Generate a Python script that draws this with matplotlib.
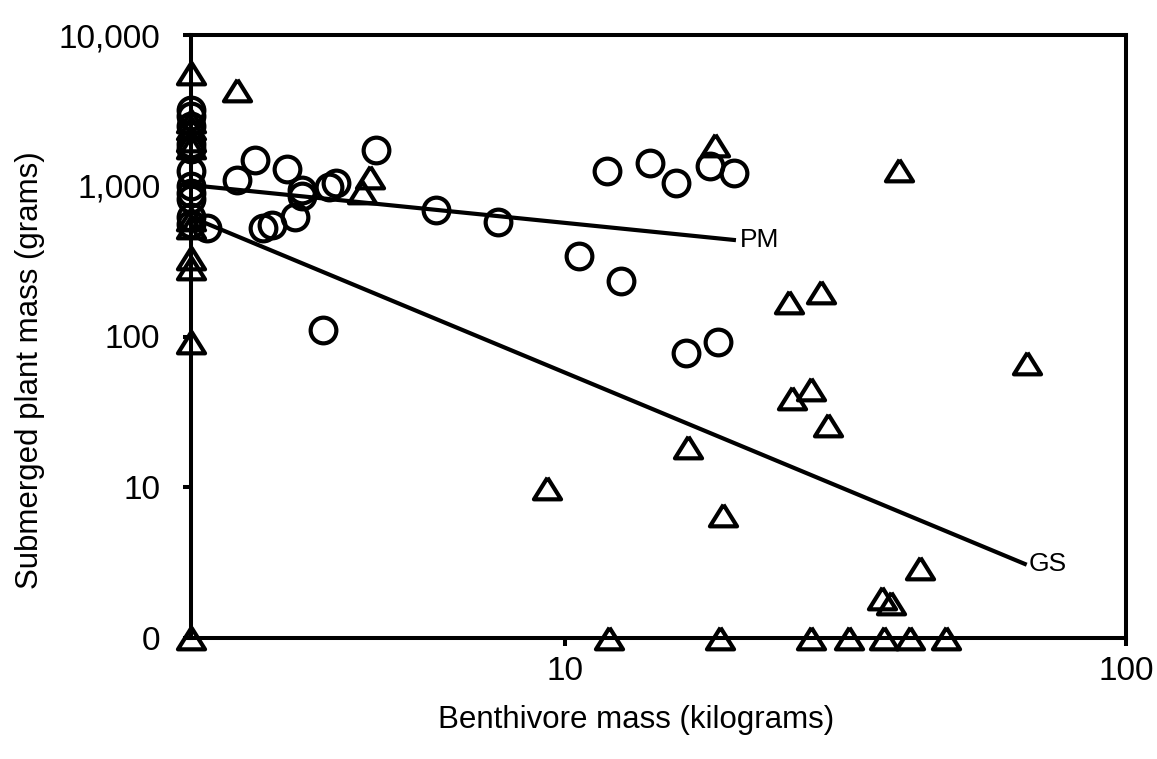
# -*- coding: utf-8 -*-
import numpy as np
import matplotlib
matplotlib.use('Agg')
import matplotlib.pyplot as plt
from matplotlib.markers import MarkerStyle
from matplotlib.ticker import FixedLocator, NullLocator

plt.rcParams['font.family'] = ['Liberation Sans', 'DejaVu Sans']

# PM sites (circles): benthivore mass (kg), submerged plant mass (g); 0 kg sits on the left axis
pm_kg = [0, 0, 0, 0, 0, 0, 0, 0, 0, 0, 0,
         2.3, 2.6, 2.8, 2.9, 3.0, 3.2, 3.3, 3.4, 3.4, 3.7, 3.8, 3.9, 4.6,
         5.9, 7.6, 10.6, 11.9, 12.6, 14.2, 15.8, 16.4, 18.1, 18.7, 20.0]
pm_g = [3200, 2900, 2500, 1900, 1750, 1250, 1000, 900, 820, 620, 560,
        525, 1090, 1480, 525, 550, 1290, 620, 940, 855, 110, 980, 1040, 1730,
        690, 575, 340, 1250, 235, 1420, 1050, 78, 1350, 92, 1220]

# GS sites (triangles); 0 g sits on the bottom axis
gs_kg = [0, 0, 0, 0, 0, 0, 0, 0, 0, 0, 0,
         2.6, 4.35, 4.5, 9.3, 16.6, 18.5, 19.1, 25.1, 25.4, 27.4, 28.6, 29.4,
         36.7, 38.1, 39.4, 43.0, 66.7,
         12.0, 18.9, 27.4, 32.1, 37.0, 41.2, 47.7]
gs_g = [5600, 2700, 2400, 2000, 1800, 600, 530, 330, 285, 92, 0,
        4300, 910, 1140, 9.9, 18.5, 1860, 6.5, 170, 39, 45, 197, 26,
        1.84, 1.7, 1270, 2.9, 67,
        0, 0, 0, 0, 0, 0, 0]

# fitted lines (end points)
pm_fit_kg = [0, 20.0]
pm_fit_g = [1010, 437]
gs_fit_kg = [0, 66.0]
gs_fit_g = [620, 3.1]

y_ticks = [1, 10, 100, 1000, 10000]
y_labels = ['0', '10', '100', '1,000', '10,000']
x_ticks = [10, 100]
x_labels = ['10', '100']

X_MIN = 10 ** (1 / 3.)
X_MAX = 100
Y_MIN = 1
Y_MAX = 10000


def floorX(v):
  v = np.asarray(v, dtype=float)
  return np.where(v <= 0, X_MIN, v)


def floorY(v):
  v = np.asarray(v, dtype=float)
  return np.where(v <= 0, Y_MIN, v)


fig = plt.figure(figsize=(11.57, 7.59), dpi=100)
ax = fig.add_axes([191 / 1157., 1 - 638 / 759., (1126 - 191) / 1157., (638 - 35) / 759.])
ax.set_xscale('log')
ax.set_yscale('log')
ax.set_xlim(X_MIN, X_MAX)
ax.set_ylim(Y_MIN, Y_MAX)

tri = MarkerStyle([(0, 0.8), (-1, -0.8), (1, -0.8), (0, 0.8)], joinstyle='miter')
ax.plot(floorX(pm_kg), floorY(pm_g), linestyle='none', marker='o', markersize=18.5,
        markerfacecolor='none', markeredgecolor='black', markeredgewidth=3,
        clip_on=False, zorder=3)
ax.plot(floorX(gs_kg), floorY(gs_g), linestyle='none', marker=tri, markersize=19.5,
        markerfacecolor='none', markeredgecolor='black', markeredgewidth=3,
        clip_on=False, zorder=3)

ax.plot(floorX(pm_fit_kg), pm_fit_g, color='black', linewidth=3, zorder=4)
ax.plot(floorX(gs_fit_kg), gs_fit_g, color='black', linewidth=3, zorder=4)
ax.annotate('PM', (pm_fit_kg[-1], pm_fit_g[-1]), xytext=(4, 0), textcoords='offset points',
            ha='left', va='center', fontsize=19)
ax.annotate('GS', (gs_fit_kg[-1], gs_fit_g[-1]), xytext=(3, 0), textcoords='offset points',
            ha='left', va='center', fontsize=19)

for s in ax.spines.values():
  s.set_linewidth(2.9)
ax.yaxis.set_major_locator(FixedLocator(y_ticks))
ax.yaxis.set_minor_locator(NullLocator())
ax.set_yticklabels(y_labels)
ax.xaxis.set_major_locator(FixedLocator(x_ticks))
ax.xaxis.set_minor_locator(NullLocator())
ax.set_xticklabels(x_labels)
ax.tick_params(axis='y', direction='out', length=6, width=2.9, labelsize=24, pad=16)
ax.tick_params(axis='x', direction='out', length=6, width=2.9, labelsize=24, pad=7)

fig.text(0.55, 1 - 720 / 759., 'Benthivore mass (kilograms)', ha='center', va='center', fontsize=22.5)
fig.text(30 / 1157., 1 - 370 / 759., 'Submerged plant mass (grams)', ha='center', va='center',
         rotation=90, fontsize=22.5)

plt.savefig('out.png', dpi=100)
